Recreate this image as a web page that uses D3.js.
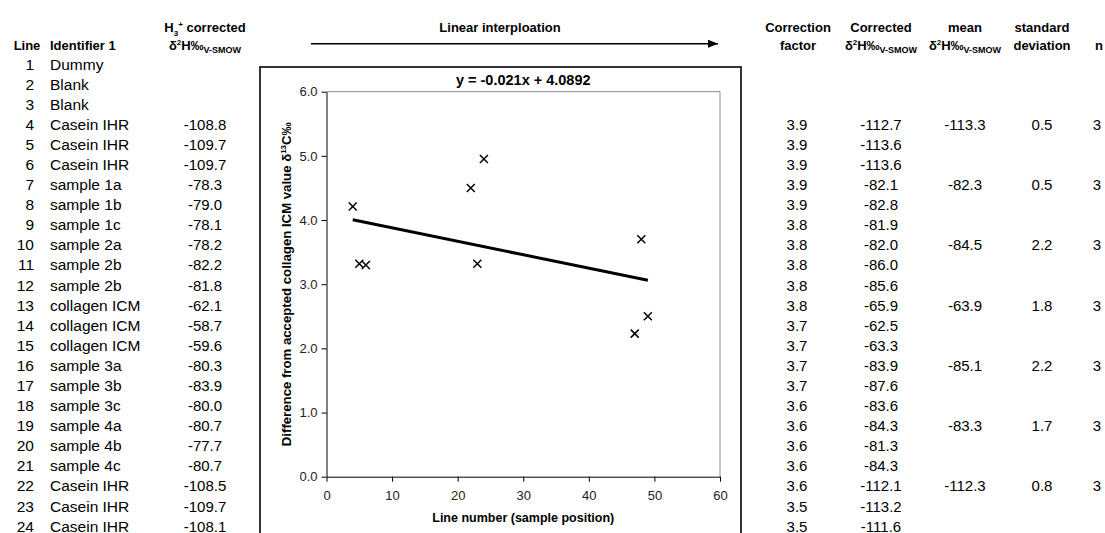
<!DOCTYPE html>
<html>

<head>
    <meta charset="utf-8">
    <style type="text/css">
    html,
    body {
        margin: 0px;
        padding: 0px;
        background: #fff;
        font-family: Arial, 'Liberation Sans', sans-serif;
    }

    .head {
        font-size: 13px;
        font-weight: bold;
    }

    .cell {
        font-size: 15.5px;
    }

    .num {
        font-size: 15px;
    }

    .axis text {
        font-size: 13px;
        fill: #222;
        font-family: Arial, 'Liberation Sans', sans-serif;
    }

    .axis path,
    .axis line {
        stroke: #000;
    }
    </style>
    <script src="https://d3js.org/d3.v7.min.js"></script>
    <title>Linear interpolation</title>
</head>

<body>
</body>
<script type="text/javascript">
var width = 1105;
var height = 533;

// table columns
var lineNo = d3.range(1, 25);
var identifiers = ["Dummy", "Blank", "Blank", "Casein IHR", "Casein IHR", "Casein IHR",
    "sample 1a", "sample 1b", "sample 1c", "sample 2a", "sample 2b", "sample 2b",
    "collagen ICM", "collagen ICM", "collagen ICM", "sample 3a", "sample 3b", "sample 3c",
    "sample 4a", "sample 4b", "sample 4c", "Casein IHR", "Casein IHR", "Casein IHR"
];
var h3Corrected = [null, null, null, -108.8, -109.7, -109.7, -78.3, -79.0, -78.1, -78.2, -82.2, -81.8,
    -62.1, -58.7, -59.6, -80.3, -83.9, -80.0, -80.7, -77.7, -80.7, -108.5, -109.7, -108.1
];
var correctionFactor = [null, null, null, 3.9, 3.9, 3.9, 3.9, 3.9, 3.8, 3.8, 3.8, 3.8,
    3.8, 3.7, 3.7, 3.7, 3.7, 3.6, 3.6, 3.6, 3.6, 3.6, 3.5, 3.5
];
var corrected = [null, null, null, -112.7, -113.6, -113.6, -82.1, -82.8, -81.9, -82.0, -86.0, -85.6,
    -65.9, -62.5, -63.3, -83.9, -87.6, -83.6, -84.3, -81.3, -84.3, -112.1, -113.2, -111.6
];
// group statistics (first row of each triplicate)
var groupRows = [4, 7, 10, 13, 16, 19, 22];
var groupMean = [-113.3, -82.3, -84.5, -63.9, -85.1, -83.3, -112.3];
var groupSd = [0.5, 0.5, 2.2, 1.8, 2.2, 1.7, 0.8];
var groupN = [3, 3, 3, 3, 3, 3, 3];

// scatter: difference from accepted collagen ICM value
var sampleLine = [4, 5, 6, 22, 23, 24, 47, 48, 49];
var difference = [4.21, 3.32, 3.30, 4.50, 3.32, 4.95, 2.23, 3.70, 2.50];
var slope = -0.021;
var intercept = 4.0892;

var svg = d3.select("body")
    .append("svg")
    .attr("width", width)
    .attr("height", height);

// plain hyphen minus, one decimal
function fmt(v) {
    return v.toFixed(1);
}

// row positions
var rowY = d3.scaleLinear().domain([1, 24]).range([69.6, 531.6]);

// column headers
var headers = [
    { x: 27, anchor: "middle", lines: [null, "Line"] },
    { x: 50, anchor: "start", lines: [null, "Identifier 1"] },
    { x: 205, anchor: "middle", lines: ["H3+", "dH"] },
    { x: 798, anchor: "middle", lines: ["Correction", "factor"] },
    { x: 881, anchor: "middle", lines: ["Corrected", "dH"] },
    { x: 965, anchor: "middle", lines: ["mean", "dH"] },
    { x: 1042, anchor: "middle", lines: ["standard", "deviation"] },
    { x: 1099, anchor: "middle", lines: [null, "n"] }
];
var headY = [31.5, 49.5];

headers.forEach(function(h) {
    h.lines.forEach(function(txt, i) {
        if (!txt) return;
        var t = svg.append("text")
            .attr("class", "head")
            .attr("x", h.x)
            .attr("y", headY[i])
            .attr("text-anchor", h.anchor);
        if (txt == "H3+") {
            t.append("tspan").text("H");
            t.append("tspan").attr("font-size", "8px").attr("dy", 4).text("3");
            t.append("tspan").attr("font-size", "8px").attr("dy", -9).text("+");
            t.append("tspan").attr("dy", 5).text(" corrected");
        } else if (txt == "dH") {
            t.append("tspan").text("δ");
            t.append("tspan").attr("font-size", "8px").attr("dy", -5).text("2");
            t.append("tspan").attr("dy", 5).text("H‰");
            t.append("tspan").attr("font-size", "9px").attr("dy", 3).text("V-SMOW");
        } else {
            t.text(txt);
        }
    });
});

// table body
svg.append("g").selectAll("text")
    .data(lineNo)
    .enter().append("text")
    .attr("class", "cell")
    .attr("x", 34)
    .attr("y", function(d) { return rowY(d); })
    .attr("text-anchor", "end")
    .text(function(d) { return d; });

svg.append("g").selectAll("text")
    .data(identifiers)
    .enter().append("text")
    .attr("class", "cell")
    .attr("x", 50)
    .attr("y", function(d, i) { return rowY(lineNo[i]); })
    .text(function(d) { return d; });

function valueColumn(values, rows, x, decimals) {
    var rowsData = values.map(function(v, i) { return { row: rows[i], v: v }; })
        .filter(function(d) { return d.v != null; });
    svg.append("g").selectAll("text")
        .data(rowsData)
        .enter().append("text")
        .attr("class", "num")
        .attr("x", x)
        .attr("y", function(d) { return rowY(d.row); })
        .attr("text-anchor", "middle")
        .text(function(d) { return decimals ? fmt(d.v) : d.v; });
}

valueColumn(h3Corrected, lineNo, 205, true);
valueColumn(correctionFactor, lineNo, 797, true);
valueColumn(corrected, lineNo, 881, true);
valueColumn(groupMean, groupRows, 965, true);
valueColumn(groupSd, groupRows, 1042, true);
valueColumn(groupN, groupRows, 1097, false);

// "Linear interploation" arrow
svg.append("defs").append("marker")
    .attr("id", "arrow")
    .attr("viewBox", "0 0 10 8")
    .attr("refX", 10)
    .attr("refY", 4)
    .attr("markerUnits", "userSpaceOnUse")
    .attr("markerWidth", 10)
    .attr("markerHeight", 8)
    .attr("orient", "auto")
    .append("path")
    .attr("d", "M0,0L10,4L0,8Z")
    .attr("fill", "#000");

svg.append("text")
    .attr("class", "head")
    .attr("x", 500)
    .attr("y", 31.5)
    .attr("text-anchor", "middle")
    .text("Linear interploation");

svg.append("line")
    .attr("x1", 311)
    .attr("x2", 718)
    .attr("y1", 43.7)
    .attr("y2", 43.7)
    .attr("stroke", "#000")
    .attr("stroke-width", 1.5)
    .attr("marker-end", "url(#arrow)");

// chart box
svg.append("rect")
    .attr("x", 260)
    .attr("y", 67)
    .attr("width", 481)
    .attr("height", 500)
    .attr("fill", "#fff")
    .attr("stroke", "#333")
    .attr("stroke-width", 2);

var plot = { left: 326.5, right: 720, top: 91.7, bottom: 476.7 };

var x = d3.scaleLinear().domain([0, 60]).range([plot.left, plot.right]);
var y = d3.scaleLinear().domain([0, 6]).range([plot.bottom, plot.top]);

// plot area frame (top and right in grey)
svg.append("path")
    .attr("d", "M" + plot.left + "," + plot.top + "H" + plot.right + "V" + plot.bottom)
    .attr("fill", "none")
    .attr("stroke", "#888")
    .attr("stroke-width", 1);

svg.append("g")
    .attr("class", "axis")
    .attr("transform", "translate(" + plot.left + ",0)")
    .call(d3.axisLeft(y).tickValues(d3.range(0, 7)).tickFormat(fmt).tickSize(5).tickSizeOuter(0))
    .selectAll("text").attr("dx", -1);

svg.append("g")
    .attr("class", "axis")
    .attr("transform", "translate(0," + plot.bottom + ")")
    .call(d3.axisBottom(x).tickValues(d3.range(0, 70, 10)).tickSize(5).tickSizeOuter(0))
    .selectAll("text").attr("dy", "1.2em");

// trend line
svg.append("line")
    .attr("x1", x(d3.min(sampleLine)))
    .attr("y1", y(slope * d3.min(sampleLine) + intercept))
    .attr("x2", x(d3.max(sampleLine)))
    .attr("y2", y(slope * d3.max(sampleLine) + intercept))
    .attr("stroke", "#000")
    .attr("stroke-width", 3);

// x markers
var s = 4;
svg.append("g").selectAll("path")
    .data(sampleLine)
    .enter().append("path")
    .attr("d", function(d, i) {
        var cx = x(d),
            cy = y(difference[i]);
        return "M" + (cx - s) + "," + (cy - s) + "L" + (cx + s) + "," + (cy + s) +
            "M" + (cx - s) + "," + (cy + s) + "L" + (cx + s) + "," + (cy - s);
    })
    .attr("stroke", "#000")
    .attr("stroke-width", 1.5);

// equation
svg.append("text")
    .attr("x", x(30))
    .attr("y", 85)
    .attr("text-anchor", "middle")
    .style("font-size", "14.5px")
    .style("font-weight", "bold")
    .text("y = " + slope + "x + " + intercept);

// axis titles
svg.append("text")
    .attr("x", x(30))
    .attr("y", 522)
    .attr("text-anchor", "middle")
    .style("font-size", "12.5px")
    .style("font-weight", "bold")
    .text("Line number (sample position)");

var yt = svg.append("text")
    .attr("transform", "translate(291," + ((plot.top + plot.bottom) / 2) + ") rotate(-90)")
    .attr("text-anchor", "middle")
    .style("font-size", "13.2px")
    .style("font-weight", "bold");
yt.append("tspan").text("Difference from accepted collagen ICM value δ");
yt.append("tspan").attr("font-size", "8px").attr("dy", -5).text("13");
yt.append("tspan").attr("dy", 5).text("C‰");
</script>

</html>
